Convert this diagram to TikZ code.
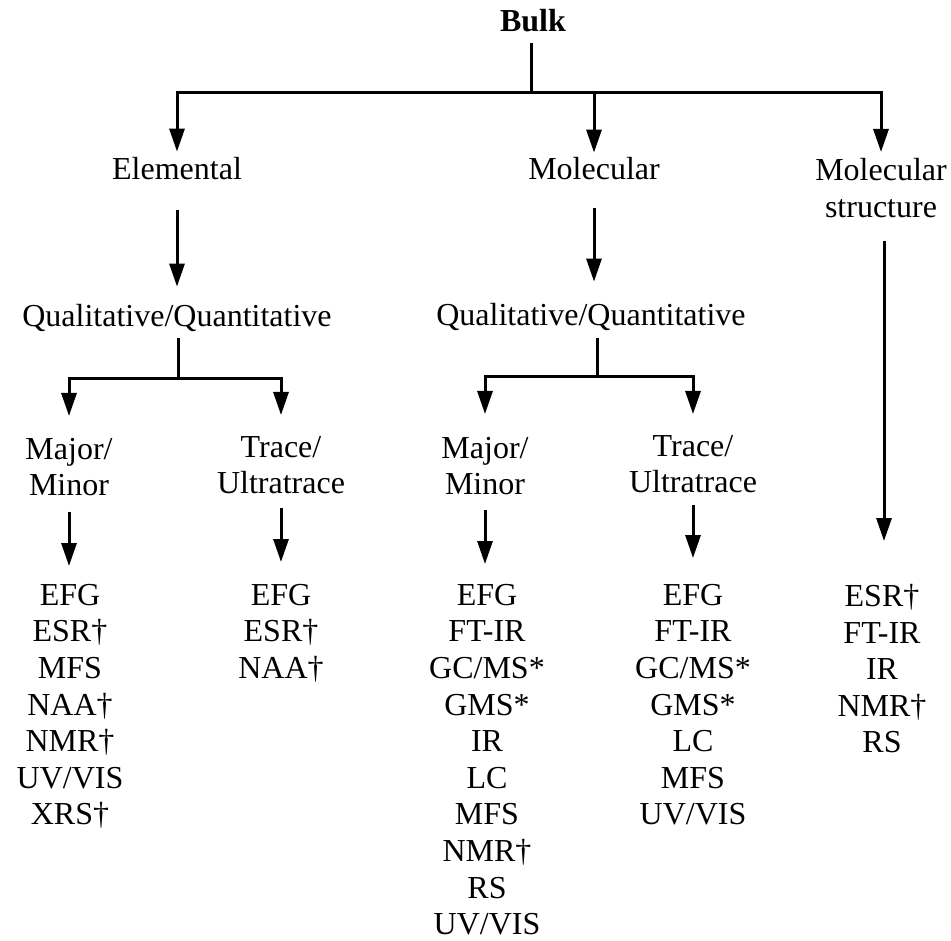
\documentclass[tikz,border=0pt]{standalone}
\usepackage{fontspec}
\setmainfont{Liberation Serif}
\usetikzlibrary{arrows.meta}
\begin{document}
\begin{tikzpicture}[x=1pt,y=-1pt,
  txt/.style={inner sep=0pt, anchor=base, align=center, font=\fontsize{32}{36.6}\selectfont},
  mtxt/.style={txt, anchor=north},
  ln/.style={line width=3pt},
  arr/.style={line width=3pt, -{Triangle[length=23pt,width=15pt]}}]
\useasboundingbox (0,0) rectangle (951,941);
% nodes
\node[txt, font=\fontsize{32}{37}\selectfont\bfseries] (bulk) at (533,32) {Bulk};
\node[txt] (elem) at (177,180) {Elemental};
\node[txt] (mol) at (594,180) {Molecular};
\node[mtxt] (ms) at (881,158) {Molecular\\structure};
\node[txt] (qq1) at (177,327) {Qualitative/Quantitative};
\node[txt] (qq2) at (591,326) {Qualitative/Quantitative};
\node[mtxt] (mm1) at (69,438) {Major/\\Minor};
\node[mtxt] (tu1) at (281,436) {Trace/\\Ultratrace};
\node[mtxt] (mm2) at (485,437) {Major/\\Minor};
\node[mtxt] (tu2) at (693,435) {Trace/\\Ultratrace};
\node[mtxt] (l1) at (70,584) {EFG\\ESR\textdagger\\MFS\\NAA\textdagger\\NMR\textdagger\\UV/VIS\\XRS\textdagger};
\node[mtxt] (l2) at (281,584) {EFG\\ESR\textdagger\\NAA\textdagger};
\node[mtxt] (l3) at (487,584) {EFG\\FT-IR\\GC/MS*\\GMS*\\IR\\LC\\MFS\\NMR\textdagger\\RS\\UV/VIS};
\node[mtxt] (l4) at (693,584) {EFG\\FT-IR\\GC/MS*\\GMS*\\LC\\MFS\\UV/VIS};
\node[mtxt] (l5) at (882,584) {ESR\textdagger\\FT-IR\\IR\\NMR\textdagger\\RS};
% junctions
\coordinate (j0) at (531,93);
\coordinate (j1) at (178,379);
\coordinate (j2) at (597,377);
% connectors
\draw[ln] ([yshift=-10pt]bulk.south -| j0) -- (j0);
\draw[arr, shorten >=6pt] (j0) -| (elem.north);
\draw[arr, shorten >=5pt] (j0) -| (mol.north);
\draw[arr, shorten >=6pt] (j0) -| (ms.north);
\draw[arr, shorten <=29pt, shorten >=18pt] (elem.south) -- (elem.south |- qq1.north);
\draw[arr, shorten <=27pt, shorten >=22pt] (mol.south) -- (mol.south |- qq2.north);
\draw[arr, shorten <=23pt, shorten >=43pt] (ms.south -| 884,0) -- (l5.north -| 884,0);
\draw[ln, shorten <=6pt] (qq1.south -| j1) -- (j1);
\draw[ln, shorten <=7pt] (qq2.south -| j2) -- (j2);
\draw[arr, shorten >=22pt] (j1) -| (mm1.north);
\draw[arr, shorten >=21pt] (j1) -| (tu1.north);
\draw[arr, shorten >=23pt] (j2) -| (mm2.north);
\draw[arr, shorten >=21pt] (j2) -| (tu2.north);
\draw[arr, shorten <=15pt, shorten >=18pt] (mm1.south) -- (mm1.south |- l1.north);
\draw[arr, shorten <=14pt, shorten >=22pt] (tu1.south) -- (tu1.south |- l2.north);
\draw[arr, shorten <=14pt, shorten >=20pt] (mm2.south) -- (mm2.south |- l3.north);
\draw[arr, shorten <=12pt, shorten >=26pt] (tu2.south) -- (tu2.south |- l4.north);
\end{tikzpicture}
\end{document}
